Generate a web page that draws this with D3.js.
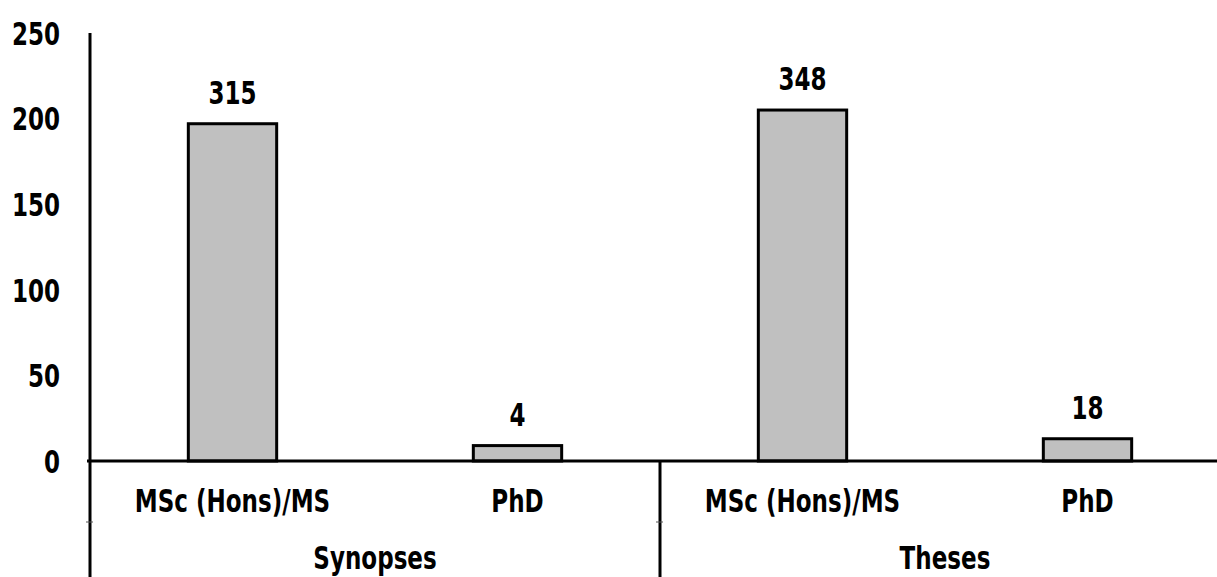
<!DOCTYPE html>
<html>
<head>
<meta charset="utf-8">
<script src="https://cdn.jsdelivr.net/npm/d3@7"></script>
<style>
  body { margin: 0; background: #fff; }
  svg text { font-family: "Liberation Sans Narrow", "DejaVu Sans Condensed", "DejaVu Sans", sans-serif; font-stretch: condensed; font-weight: bold; fill: #000; }
</style>
</head>
<body>
<svg id="chart" width="1217" height="577"></svg>
<script>
// data
var groups = ["Synopses", "Theses"];
var degrees = ["MSc (Hons)/MS", "PhD", "MSc (Hons)/MS", "PhD"];
var barHeights = [197, 9, 205, 13];      // drawn height of each bar
var barLabels = ["315", "4", "348", "18"]; // label printed on top
var yTicks = [0, 50, 100, 150, 200, 250];

var svg = d3.select("#chart");
var mLeft = 90, mRight = 1230, mTop = 33, base = 461, mBottom = 577;
var fs = 32, squeeze = 0.8; // narrow bold look

function place(px, py) {
  return "translate(" + px + "," + py + ") scale(" + squeeze + ",1)";
}

var ids = d3.range(degrees.length);
var x = d3.scaleBand()
  .domain(ids)
  .range([mLeft, mRight])
  .paddingInner(0.69)
  .paddingOuter(0.345);

var y = d3.scaleLinear()
  .domain([0, 250])
  .range([base, mTop]);

// outer group scale
var xg = d3.scaleBand()
  .domain(groups)
  .range([mLeft, mRight]);

// bars
svg.append("g")
  .selectAll("rect")
  .data(ids)
  .enter()
  .append("rect")
    .attr("x", function(i){ return x(i) })
    .attr("y", function(i){ return y(barHeights[i]) })
    .attr("width", x.bandwidth())
    .attr("height", function(i){ return y(0) - y(barHeights[i]) })
    .attr("fill", "#c0c0c0")
    .attr("stroke", "#000")
    .attr("stroke-width", 3);

// value labels
svg.append("g")
  .selectAll("text")
  .data(ids)
  .enter()
  .append("text")
    .attr("transform", function(i){ return place(x(i) + x.bandwidth()/2, y(barHeights[i]) - 20) })
    .attr("text-anchor", "middle")
    .attr("font-size", fs)
    .text(function(i){ return barLabels[i] });

// y axis
var yAxis = d3.axisLeft(y).tickValues(yTicks).tickSize(0).tickPadding(30);
var ya = svg.append("g").attr("transform", "translate(" + mLeft + ",0)").call(yAxis);
ya.select(".domain").remove();
ya.selectAll("text")
  .attr("font-size", fs)
  .attr("dy", "0.35em")
  .attr("x", -30 / squeeze)
  .attr("transform", "scale(" + squeeze + ",1)");

svg.append("line")
  .attr("x1", mLeft).attr("x2", mLeft)
  .attr("y1", mTop).attr("y2", mBottom)
  .attr("stroke", "#000").attr("stroke-width", 3);

// x axis line
svg.append("line")
  .attr("x1", mLeft - 3).attr("x2", 1217)
  .attr("y1", base).attr("y2", base)
  .attr("stroke", "#000").attr("stroke-width", 3);

// group separator
svg.append("line")
  .attr("x1", xg("Theses")).attr("x2", xg("Theses"))
  .attr("y1", base).attr("y2", mBottom)
  .attr("stroke", "#000").attr("stroke-width", 3);

// tiny row marks
svg.append("g")
  .selectAll("line")
  .data(groups)
  .enter()
  .append("line")
    .attr("x1", function(g){ return xg(g) - 4 })
    .attr("x2", function(g){ return xg(g) + 3 })
    .attr("y1", 522).attr("y2", 522)
    .attr("stroke", "#555").attr("stroke-width", 1);

// degree labels
svg.append("g")
  .selectAll("text")
  .data(ids)
  .enter()
  .append("text")
    .attr("transform", function(i){ return place(x(i) + x.bandwidth()/2, 512) })
    .attr("text-anchor", "middle")
    .attr("font-size", fs)
    .text(function(i){ return degrees[i] });

// group labels
svg.append("g")
  .selectAll("text")
  .data(groups)
  .enter()
  .append("text")
    .attr("transform", function(g){ return place(xg(g) + xg.bandwidth()/2, 569) })
    .attr("text-anchor", "middle")
    .attr("font-size", fs)
    .text(function(g){ return g });
</script>
</body>
</html>
